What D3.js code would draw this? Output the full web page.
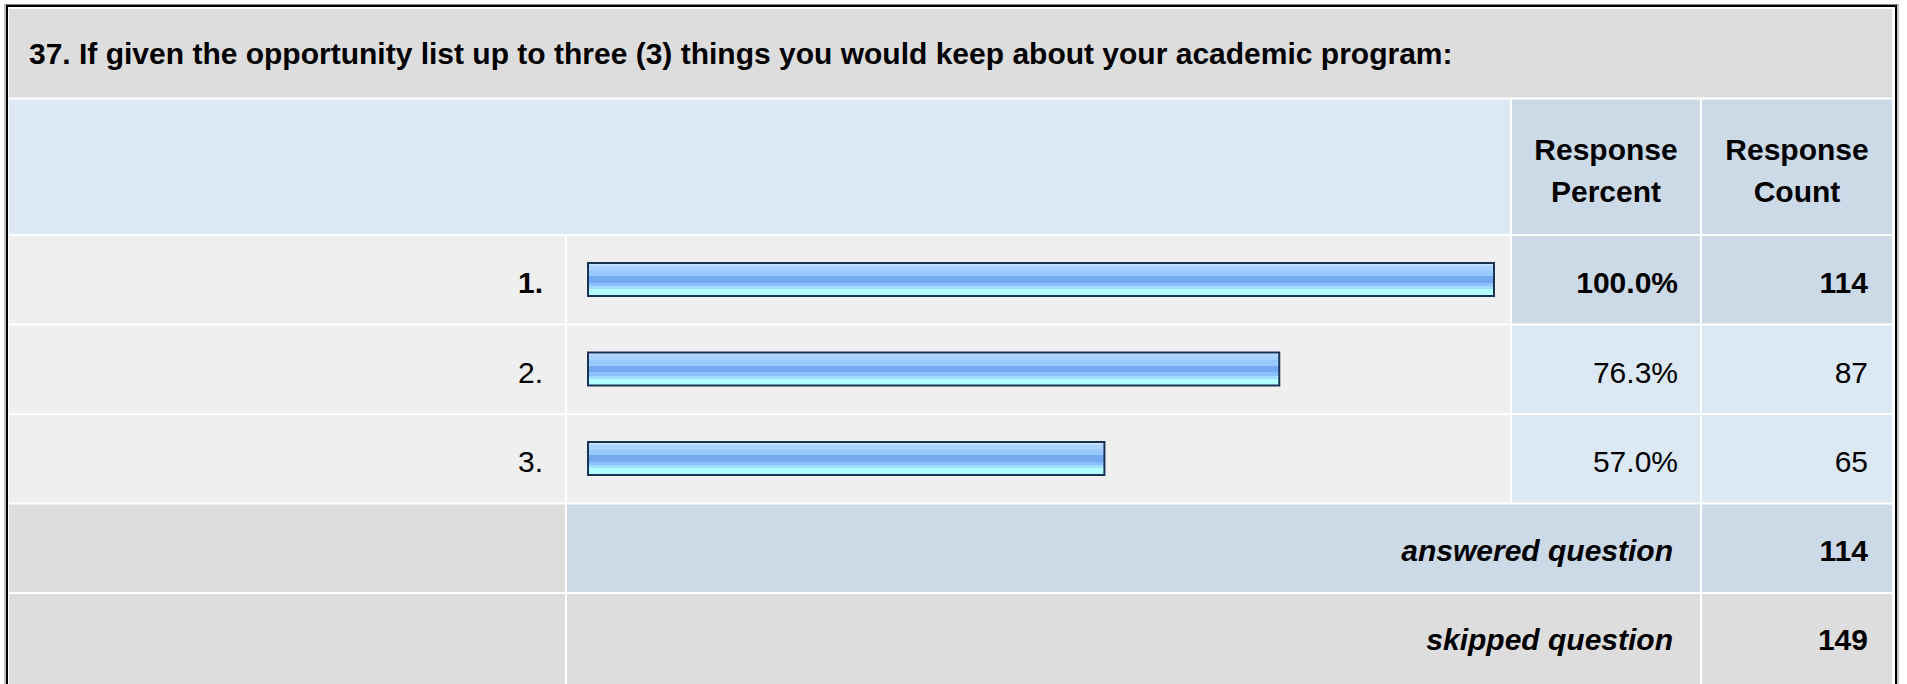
<!DOCTYPE html>
<html>
<head>
<meta charset="utf-8">
<script src="https://cdn.jsdelivr.net/npm/d3@7"></script>
<style>
  html, body { margin: 0; padding: 0; background: #ffffff; overflow: hidden; }
  svg { display: block; }
  text { font-family: "Liberation Sans", Arial, Helvetica, sans-serif; fill: #000; }
</style>
</head>
<body>
<svg id="chart" width="1907" height="684"></svg>
<script>
// ---- data ----
const questionTitle = "37. If given the opportunity list up to three (3) things you would keep about your academic program:";
const options = ["1.", "2.", "3."];
const responsePercent = [100.0, 76.3, 57.0];
const responseCount = [114, 87, 65];
const headerPercent = ["Response", "Percent"];
const headerCount = ["Response", "Count"];
const summaryLabels = ["answered question", "skipped question"];
const summaryValues = [114, 149];

// ---- layout ----
const svg = d3.select("#chart");

const colLabel = [9, 565], colBar = [567, 1510], colPct = [1512, 1700], colCnt = [1702, 1892];
const titleRow = [9, 97.5], headerRow = [99.5, 234];
const rowTop = 236, rowPitch = 89.5, rowH = 87.5;

const rowKeys = options.concat(summaryLabels);
const yRow = d3.scaleBand().domain(rowKeys).range([rowTop, rowTop + rowPitch * rowKeys.length]).paddingInner(0).paddingOuter(0);

const x = d3.scaleLinear().domain([0, 100]).range([588, 1494]);

const C = {
  title: "#dddddd",
  headLeft: "#dde8f5",
  headRight: "#ccd9e6",
  rowBg: "#efefef",
  hiCell: "#ccd9e6",
  cell: "#dde8f5",
  grey: "#dddddd"
};

function cell(x0, x1, y0, y1, fill) {
  svg.append("rect").attr("x", x0).attr("y", y0).attr("width", x1 - x0).attr("height", y1 - y0).attr("fill", fill);
}

// outer border
svg.append("rect").attr("x", 5).attr("y", 4.5).attr("width", 1893).attr("height", 800)
  .attr("fill", "none").attr("stroke", "#8a8a8a").attr("stroke-width", 1);
svg.append("rect").attr("x", 7).attr("y", 6).attr("width", 1889).attr("height", 800)
  .attr("fill", "none").attr("stroke", "#000").attr("stroke-width", 2);

// title row
cell(colLabel[0], colCnt[1], titleRow[0], titleRow[1], C.title);
svg.append("text").attr("x", 29).attr("y", 64)
  .attr("font-size", 30).attr("font-weight", "bold").text(questionTitle);

// header row
cell(colLabel[0], colBar[1], headerRow[0], headerRow[1], C.headLeft);
cell(colPct[0], colPct[1], headerRow[0], headerRow[1], C.headRight);
cell(colCnt[0], colCnt[1], headerRow[0], headerRow[1], C.headRight);
[[colPct, headerPercent], [colCnt, headerCount]].forEach(([col, lines]) => {
  const t = svg.append("text").attr("x", (col[0] + col[1]) / 2).attr("text-anchor", "middle")
    .attr("font-size", 30).attr("font-weight", "bold");
  lines.forEach((ln, i) => t.append("tspan").attr("x", (col[0] + col[1]) / 2).attr("y", 160 + i * 42).text(ln));
});

// gradient for bars
const defs = svg.append("defs");
const grad = defs.append("linearGradient").attr("id", "barGrad").attr("x1", 0).attr("y1", 0).attr("x2", 0).attr("y2", 1);
const stripes = [
  [0.00, 0.08, "#c4dfff"],
  [0.08, 0.24, "#a8d2ff"],
  [0.24, 0.40, "#98c9ff"],
  [0.40, 0.60, "#74aaf0"],
  [0.60, 0.70, "#8cc1ff"],
  [0.70, 0.80, "#a2dcff"],
  [0.80, 1.00, "#b2ffff"]
];
stripes.forEach(([a, b, c]) => {
  grad.append("stop").attr("offset", a).attr("stop-color", c);
  grad.append("stop").attr("offset", b).attr("stop-color", c);
});

// option rows
options.forEach((opt, i) => {
  const y0 = yRow(opt), y1 = y0 + rowH;
  const bold = responsePercent[i] === d3.max(responsePercent);
  cell(colLabel[0], colLabel[1], y0, y1, C.rowBg);
  cell(colBar[0], colBar[1], y0, y1, C.rowBg);
  cell(colPct[0], colPct[1], y0, y1, bold ? C.hiCell : C.cell);
  cell(colCnt[0], colCnt[1], y0, y1, bold ? C.hiCell : C.cell);
  const base = y0 + 57;
  svg.append("text").attr("x", colLabel[1] - 22).attr("y", base).attr("text-anchor", "end")
    .attr("font-size", 30).attr("font-weight", bold ? "bold" : "normal").text(opt);
  svg.append("text").attr("x", colPct[1] - 22).attr("y", base).attr("text-anchor", "end")
    .attr("font-size", 30).attr("font-weight", bold ? "bold" : "normal").text(d3.format(".1f")(responsePercent[i]) + "%");
  svg.append("text").attr("x", colCnt[1] - 24).attr("y", base).attr("text-anchor", "end")
    .attr("font-size", 30).attr("font-weight", bold ? "bold" : "normal").text(responseCount[i]);
});

// bars
svg.append("g").selectAll("rect").data(options).join("rect")
  .attr("x", x(0))
  .attr("y", d => yRow(d) + 27)
  .attr("width", (d, i) => x(responsePercent[i]) - x(0))
  .attr("height", 33)
  .attr("fill", "url(#barGrad)")
  .attr("stroke", "#1a3354")
  .attr("stroke-width", 2);

// summary rows
summaryLabels.forEach((lab, i) => {
  const y0 = yRow(lab), y1 = y0 + rowH + (i === summaryLabels.length - 1 ? 200 : 0);
  const mid = i === 0 ? C.hiCell : C.grey;
  cell(colLabel[0], colLabel[1], y0, y1, C.grey);
  cell(colBar[0], colPct[1], y0, y1, mid);
  cell(colCnt[0], colCnt[1], y0, y1, mid);
  const base = y0 + 56;
  svg.append("text").attr("x", colPct[1] - 27).attr("y", base).attr("text-anchor", "end")
    .attr("font-size", 30).attr("font-weight", "bold").attr("font-style", "italic").text(lab);
  svg.append("text").attr("x", colCnt[1] - 24).attr("y", base).attr("text-anchor", "end")
    .attr("font-size", 30).attr("font-weight", "bold").text(summaryValues[i]);
});
</script>
</body>
</html>
